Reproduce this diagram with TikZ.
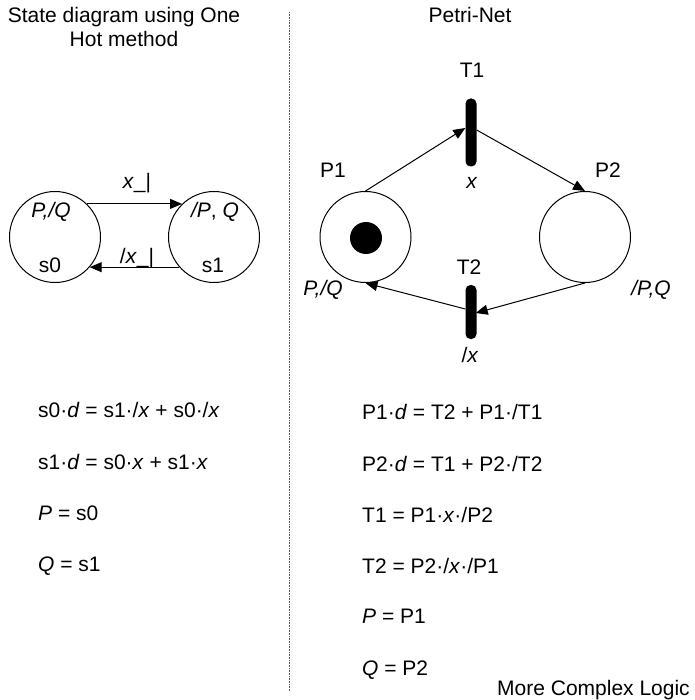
\documentclass[tikz,border=0pt]{standalone}
\usepackage{fontspec}
\setmainfont{Liberation Sans}
\usetikzlibrary{arrows.meta}
\begin{document}
\begin{tikzpicture}[x=1pt,y=-1pt,
  every node/.style={font=\fontsize{21}{24}\selectfont},
  lbl/.style={inner sep=0pt, anchor=base},
  eq/.style={inner sep=0pt, anchor=base west},
  stc/.style={circle, draw, line width=1pt, minimum size=91pt, inner sep=0pt},
  trans/.style={fill=black, rounded corners=5pt, minimum width=11pt, inner sep=0pt},
  arr/.style={line width=1pt, -{Triangle[length=12pt,width=10pt]}},
  sep/.style={black!65, dash pattern=on 0.8pt off 0.8pt, line width=1pt},
]
\useasboundingbox (0,0) rectangle (694,700);

% separator
\coordinate (septop) at (289,12);
\coordinate (sepbot) at (289,692);
\draw[sep] (septop) -- (sepbot);

% titles
\node[lbl] (title1) at (124,23) {State diagram using One};
\node[lbl] (title2) at (124,47) {Hot method};
\node[lbl] (title3) at (470,23) {Petri-Net};

% state diagram
\node[stc] (s0) at (55,237) {};
\node[stc] (s1) at (214,237) {};
\node[lbl] (s0out) at (51,218) {\textit{P,/Q}};
\node[lbl] (s1out) at (215,218) {\textit{/P}, \textit{Q}};
\node[lbl] (s0name) at (50,272) {s0};
\node[lbl] (s1name) at (213,272) {s1};
\draw[arr] (s0.46) -- (s1.134);
\draw[arr] (s1.-139) -- (s0.-41);
\node[lbl] (lab1) at (137,189) {\textit{x}\_|};
\node[lbl] (lab2) at (137,263) {/\textit{x}\_|};

% Petri net
\node[stc] (P1) at (365.5,237) {};
\node[stc] (P2) at (585,237) {};
\node[circle, fill=black, minimum size=32pt, inner sep=0pt] (tok) at (366,238) {};
\node[trans, minimum height=68pt] (T1) at (471,132.5) {};
\node[trans, minimum height=54pt] (T2) at (471,312) {};
\node[lbl] (T1l) at (472,78) {T1};
\node[lbl] (T1x) at (472,189) {\textit{x}};
\node[lbl] (T2l) at (469,274) {T2};
\node[lbl] (T2x) at (470,362) {/\textit{x}};
\node[lbl] (P1l) at (333,178) {P1};
\node[lbl] (P2l) at (608,178) {P2};
\node[lbl] (P1o) at (323,295) {\textit{P,/Q}};
\node[lbl] (P2o) at (651,295) {\textit{/P,Q}};

\draw[arr] (P1.north) -- ([yshift=4.5pt]T1.west);
\draw[arr] ([yshift=2.5pt]T1.east) -- (P2.north);
\draw[arr] (P2.south) -- ([xshift=-1pt,yshift=-1pt]T2.east);
\draw[arr] ([yshift=3pt]T2.west) -- (P1.south);

% equations left
\node[eq] (e1) at (38,417) {s0·\textit{d} = s1·/\textit{x} + s0·/\textit{x}};
\node[eq] (e2) at (38,469) {s1·\textit{d} = s0·\textit{x} + s1·\textit{x}};
\node[eq] (e3) at (38,520) {\textit{P} = s0};
\node[eq] (e4) at (38,571) {\textit{Q} = s1};

% equations right
\node[eq] (f1) at (362,419) {P1·\textit{d} = T2 + P1·/T1};
\node[eq] (f2) at (362,471) {P2·\textit{d} = T1 + P2·/T2};
\node[eq] (f3) at (362,522) {T1 = P1·\textit{x}·/P2};
\node[eq] (f4) at (362,573) {T2 = P2·/\textit{x}·/P1};
\node[eq] (f5) at (362,623) {\textit{P} = P1};
\node[eq] (f6) at (362,675) {\textit{Q} = P2};
\node[eq] (more) at (497,695) {More Complex Logic};
\end{tikzpicture}
\end{document}
